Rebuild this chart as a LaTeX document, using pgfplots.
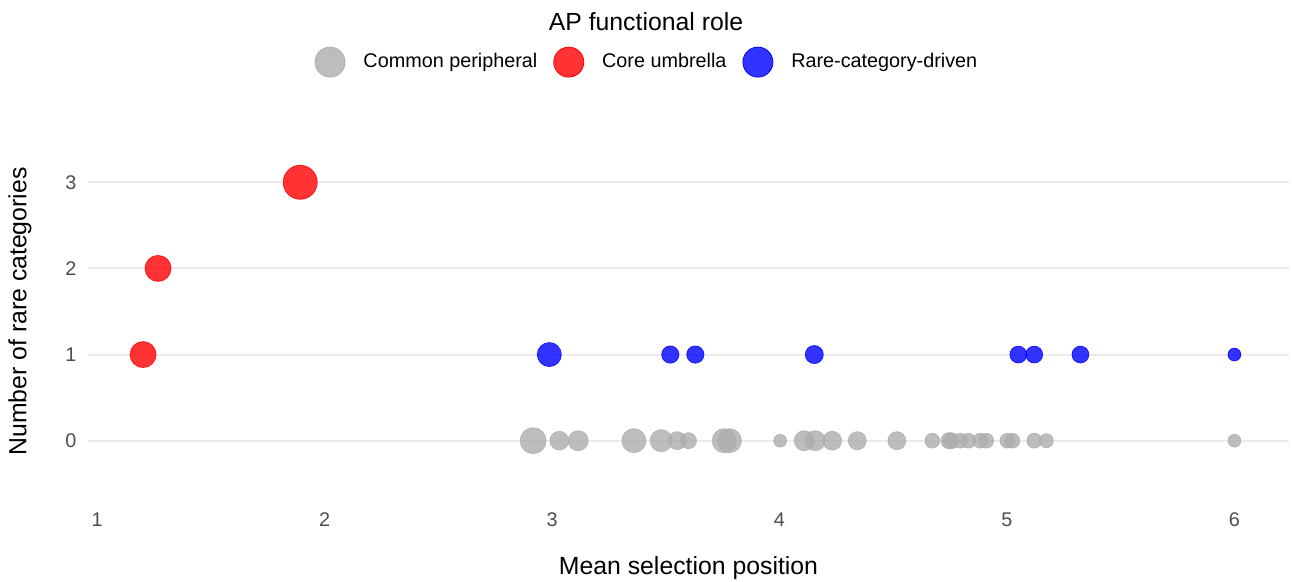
\documentclass[border=0pt]{standalone}
\usepackage{pgfplots}
\pgfplotsset{compat=1.18}
\usepackage{fontspec}
\setmainfont{Liberation Sans}
\definecolor{cgray}{HTML}{ADADAD}
\definecolor{cred}{HTML}{FF0000}
\definecolor{cblue}{HTML}{0000FF}
\definecolor{gridc}{HTML}{EBEBEB}
\definecolor{tickc}{HTML}{4D4D4D}
\pgfplotsset{
  bubble/.style={only marks, mark=*, scatter,
    visualization depends on={\thisrow{r} \as \rad},
    scatter/@pre marker code/.code={\scope[mark size=\rad]},
    scatter/@post marker code/.code={\endscope}},
}
\begin{document}
\begin{tikzpicture}
\begin{axis}[
  scale only axis,
  width=600.5pt, height=189.5pt,
  xmin=0.96, xmax=6.24, ymin=-0.7, ymax=3.7,
  axis line style={draw=none},
  major tick length=0pt,
  xtick={1,2,3,4,5,6}, ytick={0,1,2,3},
  ymajorgrids, grid style={gridc, line width=1pt},
  tick label style={font=\fontsize{9.9}{11}\selectfont, text=tickc},
  /pgf/number format/assume math mode=true,
  xticklabel style={anchor=center, yshift=-9.5pt},
  yticklabel style={anchor=center, xshift=-8.5pt},
  xlabel={Mean selection position},
  ylabel={Number of rare categories},
  label style={font=\fontsize{12.4}{14}\selectfont},
  xlabel style={at={(axis description cs:0.5,0)}, anchor=center, yshift=-33.5pt},
  ylabel style={at={(axis description cs:0,0.5)}, anchor=center, yshift=34pt},
  clip=false,
  legend style={at={(0.4646,1.158)}, anchor=center, draw=none, fill=none,
    font=\fontsize{9.9}{11}\selectfont, legend columns=3,
    nodes={inner sep=0pt},
    /tikz/every odd column/.style={column sep=9pt},
    /tikz/every even column/.style={column sep=8pt}},
  legend cell align=left,
]
\addlegendimage{legend image code/.code={\fill[cgray, fill opacity=0.8] (0cm,0cm) circle (7.5pt);}}
\addlegendentry{Common peripheral}
\addlegendimage{legend image code/.code={\fill[cred, fill opacity=0.8] (0cm,0cm) circle (7.5pt);}}
\addlegendentry{Core umbrella}
\addlegendimage{legend image code/.code={\fill[cblue, fill opacity=0.8] (0cm,0cm) circle (7.5pt);}}
\addlegendentry{Rare-category-driven}

\addplot[bubble, fill=cgray, draw=cgray, fill opacity=0.8, draw opacity=0.8, forget plot] table {
x y r
2.917 0 6.5
3.032 0 4.7
3.115 0 5
3.36 0 6
3.48 0 5.5
3.55 0 4.5
3.60 0 4
3.757 0 6
3.78 0 6
4.003 0 3.2
4.109 0 5
4.157 0 5
4.232 0 4.7
4.342 0 4.5
4.516 0 4.5
4.672 0 3.7
4.745 0 4
4.755 0 4
4.795 0 3.7
4.830 0 3.7
4.883 0 3.7
4.909 0 3.7
5.002 0 3.7
5.024 0 3.7
5.12 0 3.7
5.173 0 3.5
6.0 0 3.2
};
\addplot[bubble, fill=cblue, draw=cblue, fill opacity=0.8, draw opacity=0.8, forget plot] table {
x y r
2.988 1 6
3.52 1 4.3
3.63 1 4.3
4.153 1 4.5
5.05 1 4.2
5.12 1 4.2
5.323 1 4.2
6.0 1 3.2
};
\addplot[bubble, fill=cred, draw=cred, fill opacity=0.8, draw opacity=0.8, forget plot] table {
x y r
1.202 1 6.5
1.268 2 6.5
1.893 3 8.5
};
\node[font=\fontsize{12.4}{14}\selectfont, anchor=center] at (rel axis cs:0.4646,1.266) {AP functional role};
\coordinate (SW) at (rel axis cs:0,0);
\end{axis}
\pgfresetboundingbox
\path (SW) ++(-44pt,-40.5pt) rectangle ++(646pt,291pt);
\end{tikzpicture}
\end{document}
